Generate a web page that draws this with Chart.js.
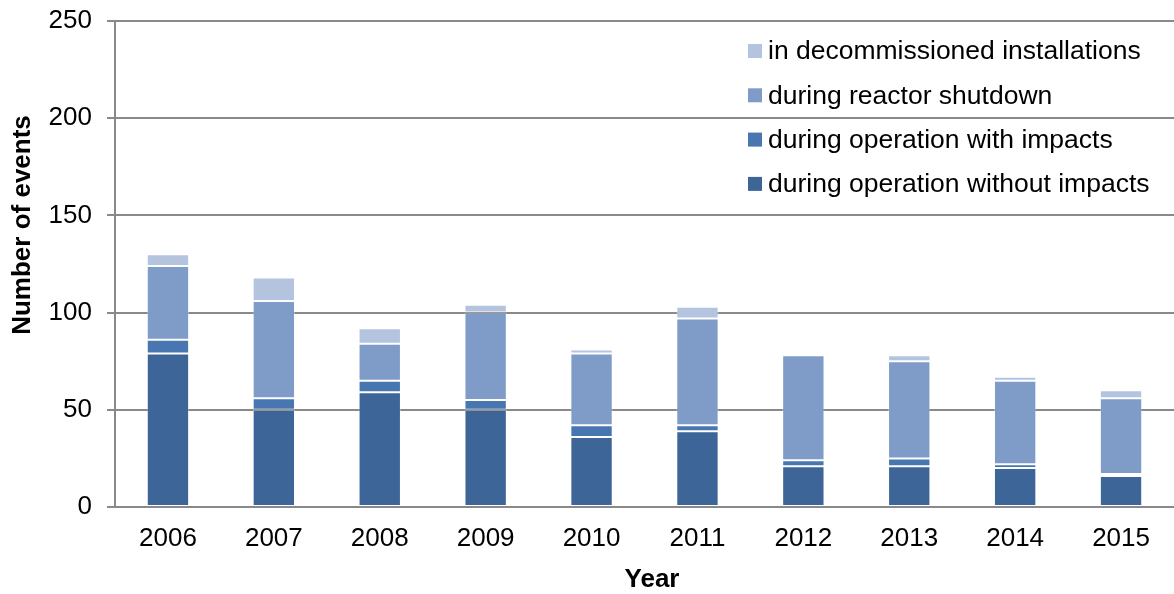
<!DOCTYPE html>
<html>
<head>
<meta charset="utf-8">
<title>Number of events</title>
<script src="https://cdn.jsdelivr.net/npm/chart.js@4/dist/chart.umd.min.js"></script>
<style>
    html, body { margin: 0; padding: 0; background: #fff; }
    #wrap { width: 1174px; height: 594px; }
</style>
</head>
<body>
<div id="wrap"><canvas id="eventosChart"></canvas></div>
<script>
// Datos por año
const anios = ['2006', '2007', '2008', '2009', '2010', '2011', '2012', '2013', '2014', '2015'];
const sinImpactos = [79, 50, 59, 50, 36, 39, 21, 21, 20, 16];
const conImpactos = [7, 6, 6, 5, 6, 3, 3, 4, 2, 1];
const paradaReactor = [38, 50, 19, 45, 37, 55, 54, 50, 43, 39];
const desmantelamiento = [6, 12, 8, 4, 2, 6, 1, 3, 2, 4];

const tituloY = 'Number of events';
const tituloX = 'Year';

const fuente = '"Liberation Sans", Arial, sans-serif';
Chart.defaults.font.family = fuente;
Chart.defaults.color = '#000';

// Leyenda dentro del área del gráfico (orden inverso, como la pila)
const leyendaInterna = {
    id: 'leyendaInterna',
    afterDraw(chart) {
        const ctx = chart.ctx;
        const items = chart.data.datasets.slice().reverse();
        ctx.save();
        ctx.font = '26.5px ' + fuente;
        ctx.textBaseline = 'middle';
        ctx.textAlign = 'left';
        items.forEach((ds, i) => {
            const y = 51 + i * 44.3;
            ctx.fillStyle = ds.backgroundColor;
            ctx.fillRect(748, y - 7, 14, 14);
            ctx.fillStyle = '#000';
            ctx.fillText(ds.label, 768, y + 1);
        });
        ctx.restore();
    }
};

// Títulos de los ejes
const titulosEjes = {
    id: 'titulosEjes',
    afterDraw(chart) {
        const ctx = chart.ctx;
        ctx.save();
        ctx.font = 'bold 26px ' + fuente;
        ctx.fillStyle = '#000';
        ctx.textAlign = 'center';
        ctx.textBaseline = 'middle';
        ctx.fillText(tituloX, 652, 580);
        ctx.translate(22, 225);
        ctx.rotate(-Math.PI / 2);
        ctx.fillText(tituloY, 0, 1);
        ctx.restore();
    }
};

function serie(label, data, color) {
    return {
        label: label,
        data: data,
        backgroundColor: color,
        borderColor: 'rgba(255, 255, 255, 0.3)',
        borderWidth: 1,
        borderSkipped: false,
        barPercentage: 0.4,
        categoryPercentage: 1.0
    };
}

new Chart(document.getElementById('eventosChart'), {
    type: 'bar',
    data: {
        labels: anios,
        datasets: [
            serie('during operation without impacts', sinImpactos, '#3D6597'),
            serie('during operation with impacts', conImpactos, '#4876B0'),
            serie('during reactor shutdown', paradaReactor, '#7F9CC8'),
            serie('in decommissioned installations', desmantelamiento, '#B4C4DF')
        ]
    },
    options: {
        responsive: true,
        maintainAspectRatio: false,
        animation: false,
        layout: {
            padding: { top: 21, right: 0, bottom: 0, left: 0 }
        },
        plugins: {
            legend: { display: false },
            tooltip: { enabled: false }
        },
        scales: {
            x: {
                stacked: true,
                grid: { display: false },
                border: { display: true, color: '#898989', width: 2 },
                ticks: {
                    font: { size: 26 },
                    padding: 8,
                    maxRotation: 0
                },
                afterFit(scale) { scale.height = 87; }
            },
            y: {
                stacked: true,
                min: 0,
                max: 250,
                ticks: {
                    stepSize: 50,
                    font: { size: 26 },
                    padding: 15
                },
                grid: {
                    color: '#898989',
                    lineWidth: 2,
                    tickLength: 8
                },
                border: { display: true, color: '#898989', width: 2 },
                afterFit(scale) {
                    scale.width = 115;
                    scale.paddingTop = 0;
                    scale.paddingBottom = 0;
                }
            }
        }
    },
    plugins: [leyendaInterna, titulosEjes]
});
</script>
</body>
</html>
